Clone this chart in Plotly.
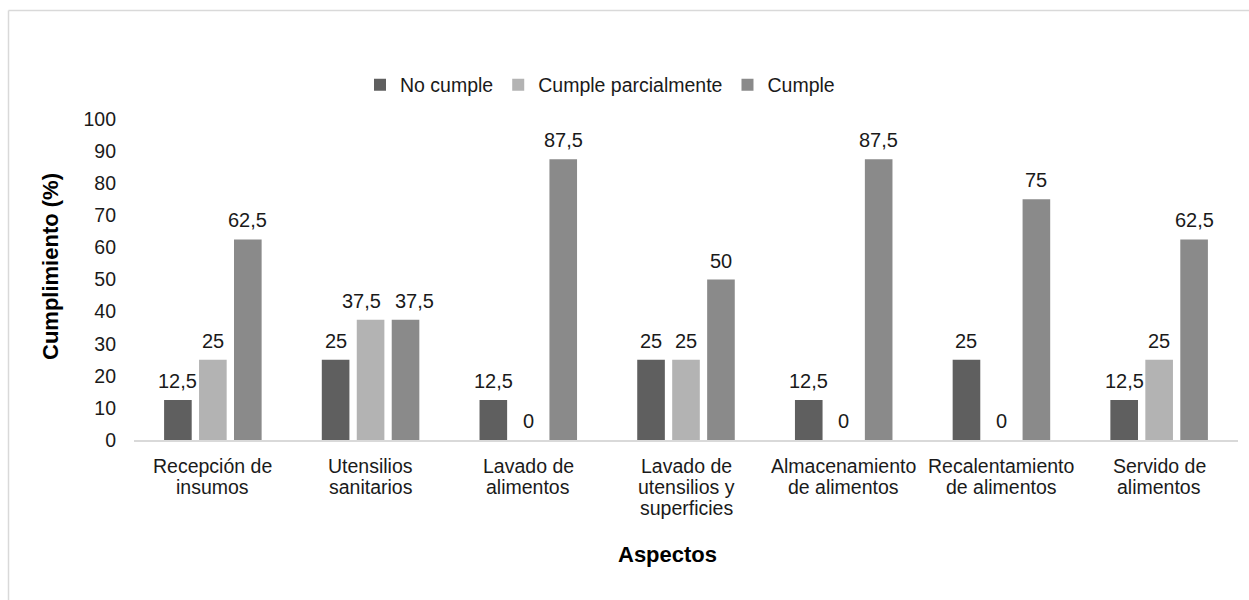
import plotly.graph_objects as go

categories = ["Recepción de insumos", "Utensilios sanitarios", "Lavado de alimentos",
              "Lavado de utensilios y superficies", "Almacenamiento de alimentos",
              "Recalentamiento de alimentos", "Servido de alimentos"]
tick_lines = [["Recepción de", "insumos"], ["Utensilios", "sanitarios"], ["Lavado de", "alimentos"],
              ["Lavado de", "utensilios y", "superficies"], ["Almacenamiento", "de alimentos"],
              ["Recalentamiento", "de alimentos"], ["Servido de", "alimentos"]]
no_cumple = [12.5, 25, 12.5, 25, 12.5, 25, 12.5]
cumple_parcial = [25, 37.5, 0, 25, 0, 0, 25]
cumple = [62.5, 37.5, 87.5, 50, 87.5, 75, 62.5]
y_ticks = [0, 10, 20, 30, 40, 50, 60, 70, 80, 90, 100]

W, H = 1249, 600
L, R, T, B = 134, 1238, 119, 440  # plot area pixels
BARGAP, GROUPGAP = 0.335, 0.21


def px(x):
    return (x - L) / (R - L)


def py(y):
    return (B - y) / (B - T)


def fmt(v):
    s = f"{v:g}"
    return s.replace(".", ",")


FONT = "Liberation Sans, Arial, sans-serif"
TXT = "#1a1a1a"
FS = 19.5

series = [("No cumple", no_cumple, "#5f5f5f"),
          ("Cumple parcialmente", cumple_parcial, "#b3b3b3"),
          ("Cumple", cumple, "#8a8a8a")]

fig = go.Figure()
for name, vals, col in series:
    fig.add_trace(go.Bar(name=name, x=categories, y=vals,
                         marker=dict(color=col, line=dict(width=0))))

# data labels: offset of each series' slot within the group, derived from the bar layout
n = len(series)
cat_px = (R - L) / len(categories)
slot_px = (1 - BARGAP) * cat_px / n
for j, cat in enumerate(categories):
    shifts = [(s - (n - 1) / 2) * slot_px for s in range(n)]
    # nudge apart neighbouring long labels at the same height (as the source chart does)
    for s in range(n - 1):
        a, b = series[s][1][j], series[s + 1][1][j]
        if abs(a - b) < 5 and len(fmt(a)) >= 4 and len(fmt(b)) >= 4:
            shifts[s] -= 9
            shifts[s + 1] += 9
    for s in range(n):
        v = series[s][1][j]
        fig.add_annotation(text=fmt(v), x=cat, y=v, xref="x", yref="y", xshift=shifts[s], yshift=6,
                           xanchor="center", yanchor="bottom", showarrow=False,
                           font=dict(size=20, color=TXT, family=FONT))

fig.update_layout(
    width=W, height=H,
    margin=dict(l=L, r=W - R, t=T, b=H - B, autoexpand=False),
    paper_bgcolor="white", plot_bgcolor="white",
    barmode="group", bargap=BARGAP, bargroupgap=GROUPGAP,
    font=dict(family=FONT, size=FS, color=TXT),
    showlegend=True,
    legend=dict(orientation="h", x=px(600), xanchor="center", y=py(85), yanchor="middle",
                font=dict(size=FS, color=TXT, family=FONT), itemsizing="constant",
                traceorder="normal", itemwidth=30),
)
fig.update_xaxes(showline=True, linecolor="#d9d9d9", linewidth=1.5, showgrid=False,
                 ticks="", showticklabels=False)
fig.update_yaxes(range=[0, 100], tickvals=y_ticks, showgrid=False, zeroline=False,
                 showline=False, ticks="", ticklabelstandoff=17,
                 tickfont=dict(size=FS, color=TXT))

# category labels with tight line spacing, placed on the category axis
for cat, lines in zip(categories, tick_lines):
    for i, ln in enumerate(lines):
        fig.add_annotation(text=ln, x=cat, xref="x", yref="paper", y=py(466 + 21 * i),
                           xanchor="center", yanchor="middle", showarrow=False,
                           font=dict(size=FS, color=TXT, family=FONT))

fig.add_annotation(text="<b>Cumplimiento (%)</b>", textangle=-90, xref="paper", yref="paper",
                   x=px(50), y=py(267), xanchor="center", yanchor="middle", showarrow=False,
                   font=dict(size=22, color="#000000"))
fig.add_annotation(text="<b>Aspectos</b>", xref="paper", yref="paper",
                   x=px(667), y=py(554), xanchor="center", yanchor="middle", showarrow=False,
                   font=dict(size=22, color="#000000"))

# outer frame lines (top and left)
fig.add_shape(type="line", xref="paper", yref="paper", x0=px(8.5), x1=px(1260), y0=py(10.5), y1=py(10.5),
              line=dict(color="#d9d9d9", width=1.5))
fig.add_shape(type="line", xref="paper", yref="paper", x0=px(8.5), x1=px(8.5), y0=py(10.5), y1=py(610),
              line=dict(color="#d9d9d9", width=1.5))

fig.write_html("out.html")
